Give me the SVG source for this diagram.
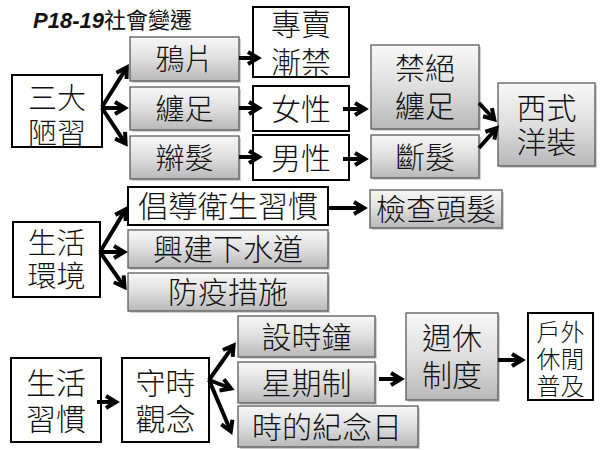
<svg xmlns="http://www.w3.org/2000/svg" width="600" height="450" viewBox="0 0 600 450">
<defs>
<linearGradient id="g" x1="0" y1="0" x2="0" y2="1">
<stop offset="0" stop-color="#f8f8f8"/>
<stop offset="0.5" stop-color="#dedede"/>
<stop offset="1" stop-color="#b8b8b8"/>
</linearGradient>
<marker id="ah" viewBox="0 0 20 16" refX="12" refY="8" markerWidth="20" markerHeight="16" markerUnits="userSpaceOnUse" orient="auto" overflow="visible">
<path d="M2,2 L12,8 L2,14" fill="none" stroke="#000" stroke-width="4" stroke-linejoin="miter" stroke-linecap="butt"/>
</marker>
</defs>
<style>
.w{fill:#fff;stroke:#000;stroke-width:2}
.gr{fill:url(#g);stroke:#5a5a5a;stroke-width:1.3}
.sh{fill:#000;opacity:0.18}
text{font-family:"Noto Sans CJK TC","Noto Sans CJK SC",sans-serif;font-weight:300;fill:#111;text-anchor:middle}
.t29{font-size:29px}
.t30{font-size:30px}
.t24{font-size:24px}
#connectors line{stroke:#000;stroke-width:4;marker-end:url(#ah)}
</style>
<rect width="600" height="450" fill="#fff"/>
<g id="title">
<text x="33" y="28" style="text-anchor:start;font-size:22px;font-weight:400"><tspan style="font-family:'Liberation Sans',sans-serif;font-weight:bold;font-style:italic">P18-19</tspan><tspan>社會變遷</tspan></text>
</g>

<g id="n_sandalouxi"><rect class="w" x="12" y="75" width="90" height="72"/><text class="t29" x="57" y="109">三大<tspan x="57" dy="35">陋習</tspan></text></g>
<g id="n_yapian"><rect class="sh" x="132" y="39" width="109" height="44"/><rect class="gr" x="130" y="37" width="109" height="44"/><text class="t29" x="184.5" y="70">鴉片</text></g>
<g id="n_chanzu"><rect class="sh" x="132" y="89" width="109" height="43"/><rect class="gr" x="130" y="87" width="109" height="43"/><text class="t29" x="184.5" y="119.5">纏足</text></g>
<g id="n_bianfa"><rect class="sh" x="132" y="138" width="109" height="43"/><rect class="gr" x="130" y="136" width="109" height="43"/><text class="t29" x="184.5" y="168.5">辮髮</text></g>
<g id="n_zhuanmai"><rect class="w" x="253" y="7" width="96" height="70"/><text class="t30" x="301" y="35">專賣<tspan x="301" dy="38">漸禁</tspan></text></g>
<g id="n_nvxing"><rect class="w" x="253" y="86" width="96" height="45"/><text class="t30" x="301" y="120">女性</text></g>
<g id="n_nanxing"><rect class="w" x="253" y="135" width="96" height="45"/><text class="t30" x="301" y="169">男性</text></g>
<g id="n_jinjue"><rect class="sh" x="373" y="47" width="108" height="84"/><rect class="gr" x="371" y="45" width="108" height="84"/><text class="t30" x="425" y="79">禁絕<tspan x="425" dy="38">纏足</tspan></text></g>
<g id="n_duanfa"><rect class="sh" x="373" y="137" width="108" height="43"/><rect class="gr" x="371" y="135" width="108" height="43"/><text class="t30" x="425" y="168">斷髮</text></g>
<g id="n_xishi"><rect class="sh" x="500" y="85" width="97" height="83"/><rect class="gr" x="498" y="83" width="97" height="83"/><text class="t30" x="546.5" y="119">西式<tspan x="546.5" dy="34">洋裝</tspan></text></g>

<g id="n_huanjing"><rect class="w" x="13" y="222" width="87" height="75"/><text class="t29" x="56.5" y="254">生活<tspan x="56.5" dy="33">環境</tspan></text></g>
<g id="n_changdao"><rect class="w" x="128" y="187" width="200" height="38"/><text class="t30" x="228" y="217">倡導衛生習慣</text></g>
<g id="n_xingjian"><rect class="sh" x="130" y="232" width="200" height="38"/><rect class="gr" x="128" y="230" width="200" height="38"/><text class="t30" x="228" y="260">興建下水道</text></g>
<g id="n_fangyi"><rect class="sh" x="130" y="275" width="200" height="38"/><rect class="gr" x="128" y="273" width="200" height="38"/><text class="t30" x="228" y="303">防疫措施</text></g>
<g id="n_jiancha"><rect class="sh" x="372" y="192" width="132" height="38"/><rect class="gr" x="370" y="190" width="132" height="38"/><text class="t30" x="436" y="220">檢查頭髮</text></g>

<g id="n_xiguan"><rect class="w" x="11" y="358" width="90" height="84"/><text class="t30" x="56" y="394">生活<tspan x="56" dy="36">習慣</tspan></text></g>
<g id="n_shoushi"><rect class="w" x="122" y="358" width="87" height="84"/><text class="t30" x="165.5" y="394">守時<tspan x="165.5" dy="36">觀念</tspan></text></g>
<g id="n_sheshizhong"><rect class="sh" x="240" y="318" width="137" height="41"/><rect class="gr" x="238" y="316" width="137" height="41"/><text class="t30" x="306.5" y="347.5">設時鐘</text></g>
<g id="n_xingqi"><rect class="sh" x="240" y="364" width="137" height="41"/><rect class="gr" x="238" y="362" width="137" height="41"/><text class="t30" x="306.5" y="393.5">星期制</text></g>
<g id="n_jinianri"><rect class="sh" x="240" y="408" width="180" height="41"/><rect class="gr" x="238" y="406" width="180" height="41"/><text class="t30" x="327" y="437.5">時的紀念日</text></g>
<g id="n_zhouxiu"><rect class="sh" x="408" y="315" width="92" height="87"/><rect class="gr" x="406" y="313" width="92" height="87"/><text class="t30" x="452" y="349">週休<tspan x="452" dy="37">制度</tspan></text></g>
<g id="n_huwai"><rect class="w" x="528" y="313" width="65" height="87"/><text class="t24" x="560.5" y="341">戶外<tspan x="560.5" dy="27">休閒</tspan><tspan x="560.5" dy="27">普及</tspan></text></g>

<g id="connectors">
<line x1="102" y1="107" x2="126.8" y2="67.4"/>
<line x1="102" y1="108" x2="125" y2="108"/>
<line x1="102" y1="108" x2="125.6" y2="143.6"/>
<line x1="239" y1="58" x2="258" y2="58"/>
<line x1="239" y1="108" x2="259" y2="108"/>
<line x1="239" y1="157" x2="259" y2="157"/>
<line x1="343" y1="109" x2="365" y2="109"/>
<line x1="343" y1="159" x2="365" y2="159"/>
<line x1="479" y1="103" x2="494.3" y2="119.5"/>
<line x1="479" y1="148" x2="496.5" y2="128.2"/>
<line x1="100" y1="252" x2="125.6" y2="209.4"/>
<line x1="100" y1="252" x2="124" y2="252"/>
<line x1="100" y1="252" x2="124.5" y2="287"/>
<line x1="328" y1="208" x2="364" y2="208"/>
<line x1="97" y1="402" x2="116" y2="402"/>
<line x1="209" y1="380" x2="233.6" y2="345.3"/>
<line x1="209" y1="380" x2="231" y2="388.5"/>
<line x1="209" y1="380" x2="230.8" y2="431.3"/>
<line x1="379" y1="379" x2="401" y2="379"/>
<line x1="498" y1="360" x2="522" y2="360"/>
</g>
</svg>
